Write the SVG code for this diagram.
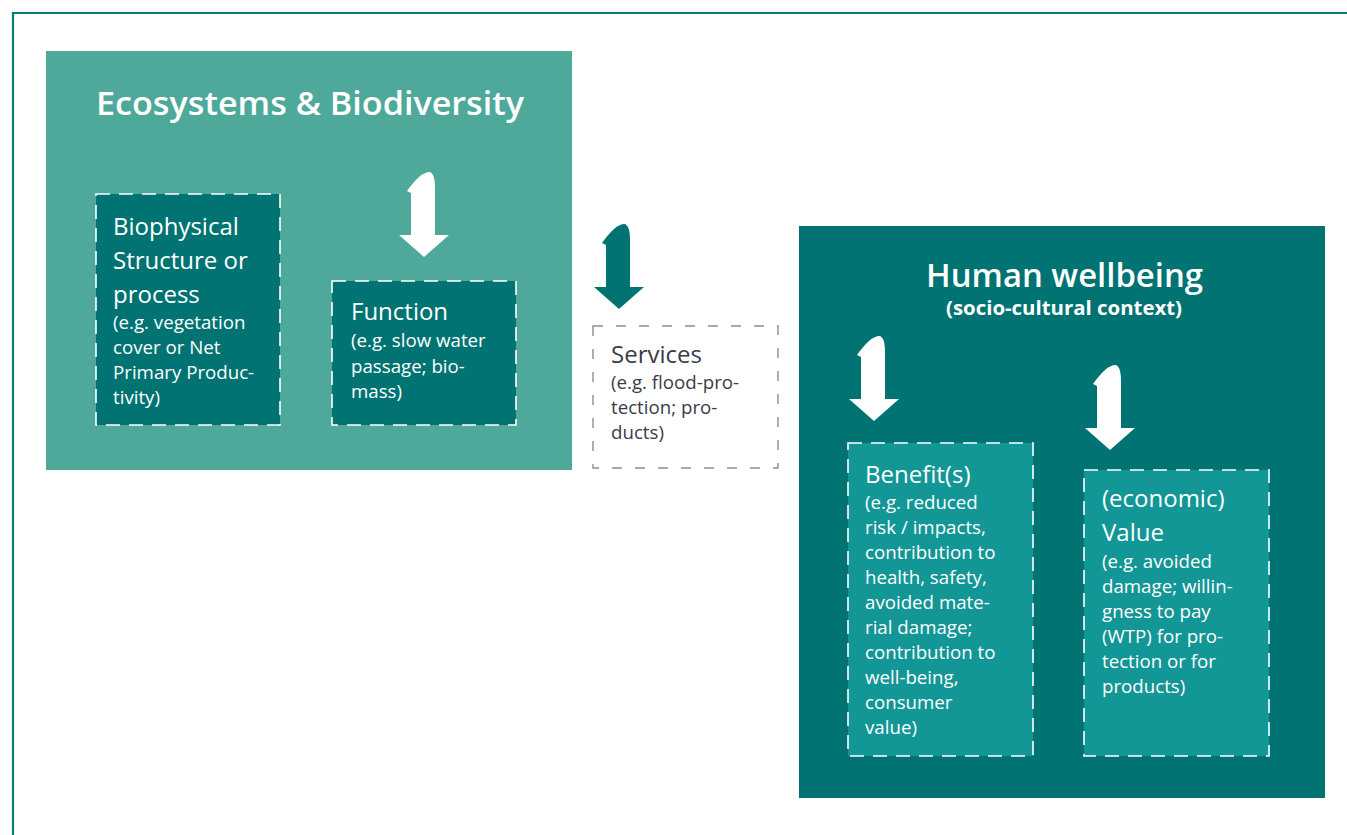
<svg xmlns="http://www.w3.org/2000/svg" width="1347" height="835" viewBox="0 0 1347 835">
<style>
text{font-family:"Open Sans","Noto Sans","DejaVu Sans",sans-serif;fill:#ffffff}
.h{font-size:24px}
.s{font-size:18.7px}
.t{font-size:32px;font-weight:600}
.dark{fill:#007372}
.mid{fill:#139696}
.wd{fill:none;stroke:#ffffff;stroke-width:1.6;stroke-dasharray:14 9}
.gd{fill:none;stroke:#8c8c9a;stroke-width:1.4;stroke-dasharray:10 13}
.g text{fill:#3b3b4b}
</style>
<defs>
<path id="arr" d="M0,0 L-25,-22 L-13,-22 L-13,-64 L-17,-66 C-9,-77 -2,-85 6,-85 C10,-83 11,-77 11,-69 L11,-22 L25,-22 Z"/>
</defs>
<rect x="0" y="0" width="1347" height="835" fill="#ffffff"/>
<path d="M13,835 L13,13 L1347,13" fill="none" stroke="#0b7b78" stroke-width="2.2"/>

<g id="ecosystems">
<rect x="46" y="51" width="526" height="419" fill="#4ea99a"/>
<text class="t" x="96" y="115" textLength="428" lengthAdjust="spacingAndGlyphs">Ecosystems &amp; Biodiversity</text>
</g>

<g id="biophysical">
<rect x="96" y="194" width="184" height="231" class="dark"/>
<rect x="96" y="194" width="184" height="231" class="wd"/>
<text class="h" x="113" y="235">Biophysical</text>
<text class="h" x="113" y="269">Structure or</text>
<text class="h" x="113" y="303">process</text>
<text class="s" x="113" y="329">(e.g. vegetation</text>
<text class="s" x="113" y="354">cover or Net</text>
<text class="s" x="113" y="379">Primary Produc-</text>
<text class="s" x="113" y="404">tivity)</text>
</g>

<g id="function">
<rect x="332" y="281" width="184" height="144" class="dark"/>
<rect x="332" y="281" width="184" height="144" class="wd"/>
<text class="h" x="351" y="320">Function</text>
<text class="s" x="351" y="347">(e.g. slow water</text>
<text class="s" x="351" y="373">passage; bio-</text>
<text class="s" x="351" y="398">mass)</text>
</g>

<g id="services" class="g">
<rect x="593" y="326" width="185" height="142" class="gd"/>
<text class="h" x="611" y="363">Services</text>
<text class="s" x="611" y="389">(e.g. flood-pro-</text>
<text class="s" x="611" y="414">tection; pro-</text>
<text class="s" x="611" y="439">ducts)</text>
</g>

<g id="human-wellbeing">
<rect x="799" y="226" width="526" height="572" fill="#007372"/>
<text x="926" y="287" textLength="277" lengthAdjust="spacingAndGlyphs" style="font-size:32px;font-weight:600">Human wellbeing</text>
<text x="946" y="315" textLength="236" lengthAdjust="spacingAndGlyphs" style="font-size:19.5px;font-weight:700">(socio-cultural context)</text>
</g>

<g id="benefits">
<rect x="848" y="443" width="185" height="313" class="mid"/>
<rect x="848" y="443" width="185" height="313" class="wd"/>
<text class="h" x="865" y="483">Benefit(s)</text>
<text class="s" x="865" y="509">(e.g. reduced</text>
<text class="s" x="865" y="534">risk / impacts,</text>
<text class="s" x="865" y="559">contribution to</text>
<text class="s" x="865" y="584">health, safety,</text>
<text class="s" x="865" y="609">avoided mate-</text>
<text class="s" x="865" y="634">rial damage;</text>
<text class="s" x="865" y="659">contribution to</text>
<text class="s" x="865" y="684">well-being,</text>
<text class="s" x="865" y="709">consumer</text>
<text class="s" x="865" y="734">value)</text>
</g>

<g id="value">
<rect x="1084" y="470" width="185" height="286" class="mid"/>
<rect x="1084" y="470" width="185" height="286" class="wd"/>
<text class="h" x="1102" y="507">(economic)</text>
<text class="h" x="1102" y="541">Value</text>
<text class="s" x="1102" y="568">(e.g. avoided</text>
<text class="s" x="1102" y="593">damage; willin-</text>
<text class="s" x="1102" y="618">gness to pay</text>
<text class="s" x="1102" y="643">(WTP) for pro-</text>
<text class="s" x="1102" y="668">tection or for</text>
<text class="s" x="1102" y="693">products)</text>
</g>

<g id="connectors">
<use href="#arr" x="424" y="257" fill="#ffffff"/>
<use href="#arr" x="619" y="309" fill="#007372"/>
<use href="#arr" x="874" y="421" fill="#ffffff"/>
<use href="#arr" x="1110" y="450" fill="#ffffff"/>
</g>
</svg>
